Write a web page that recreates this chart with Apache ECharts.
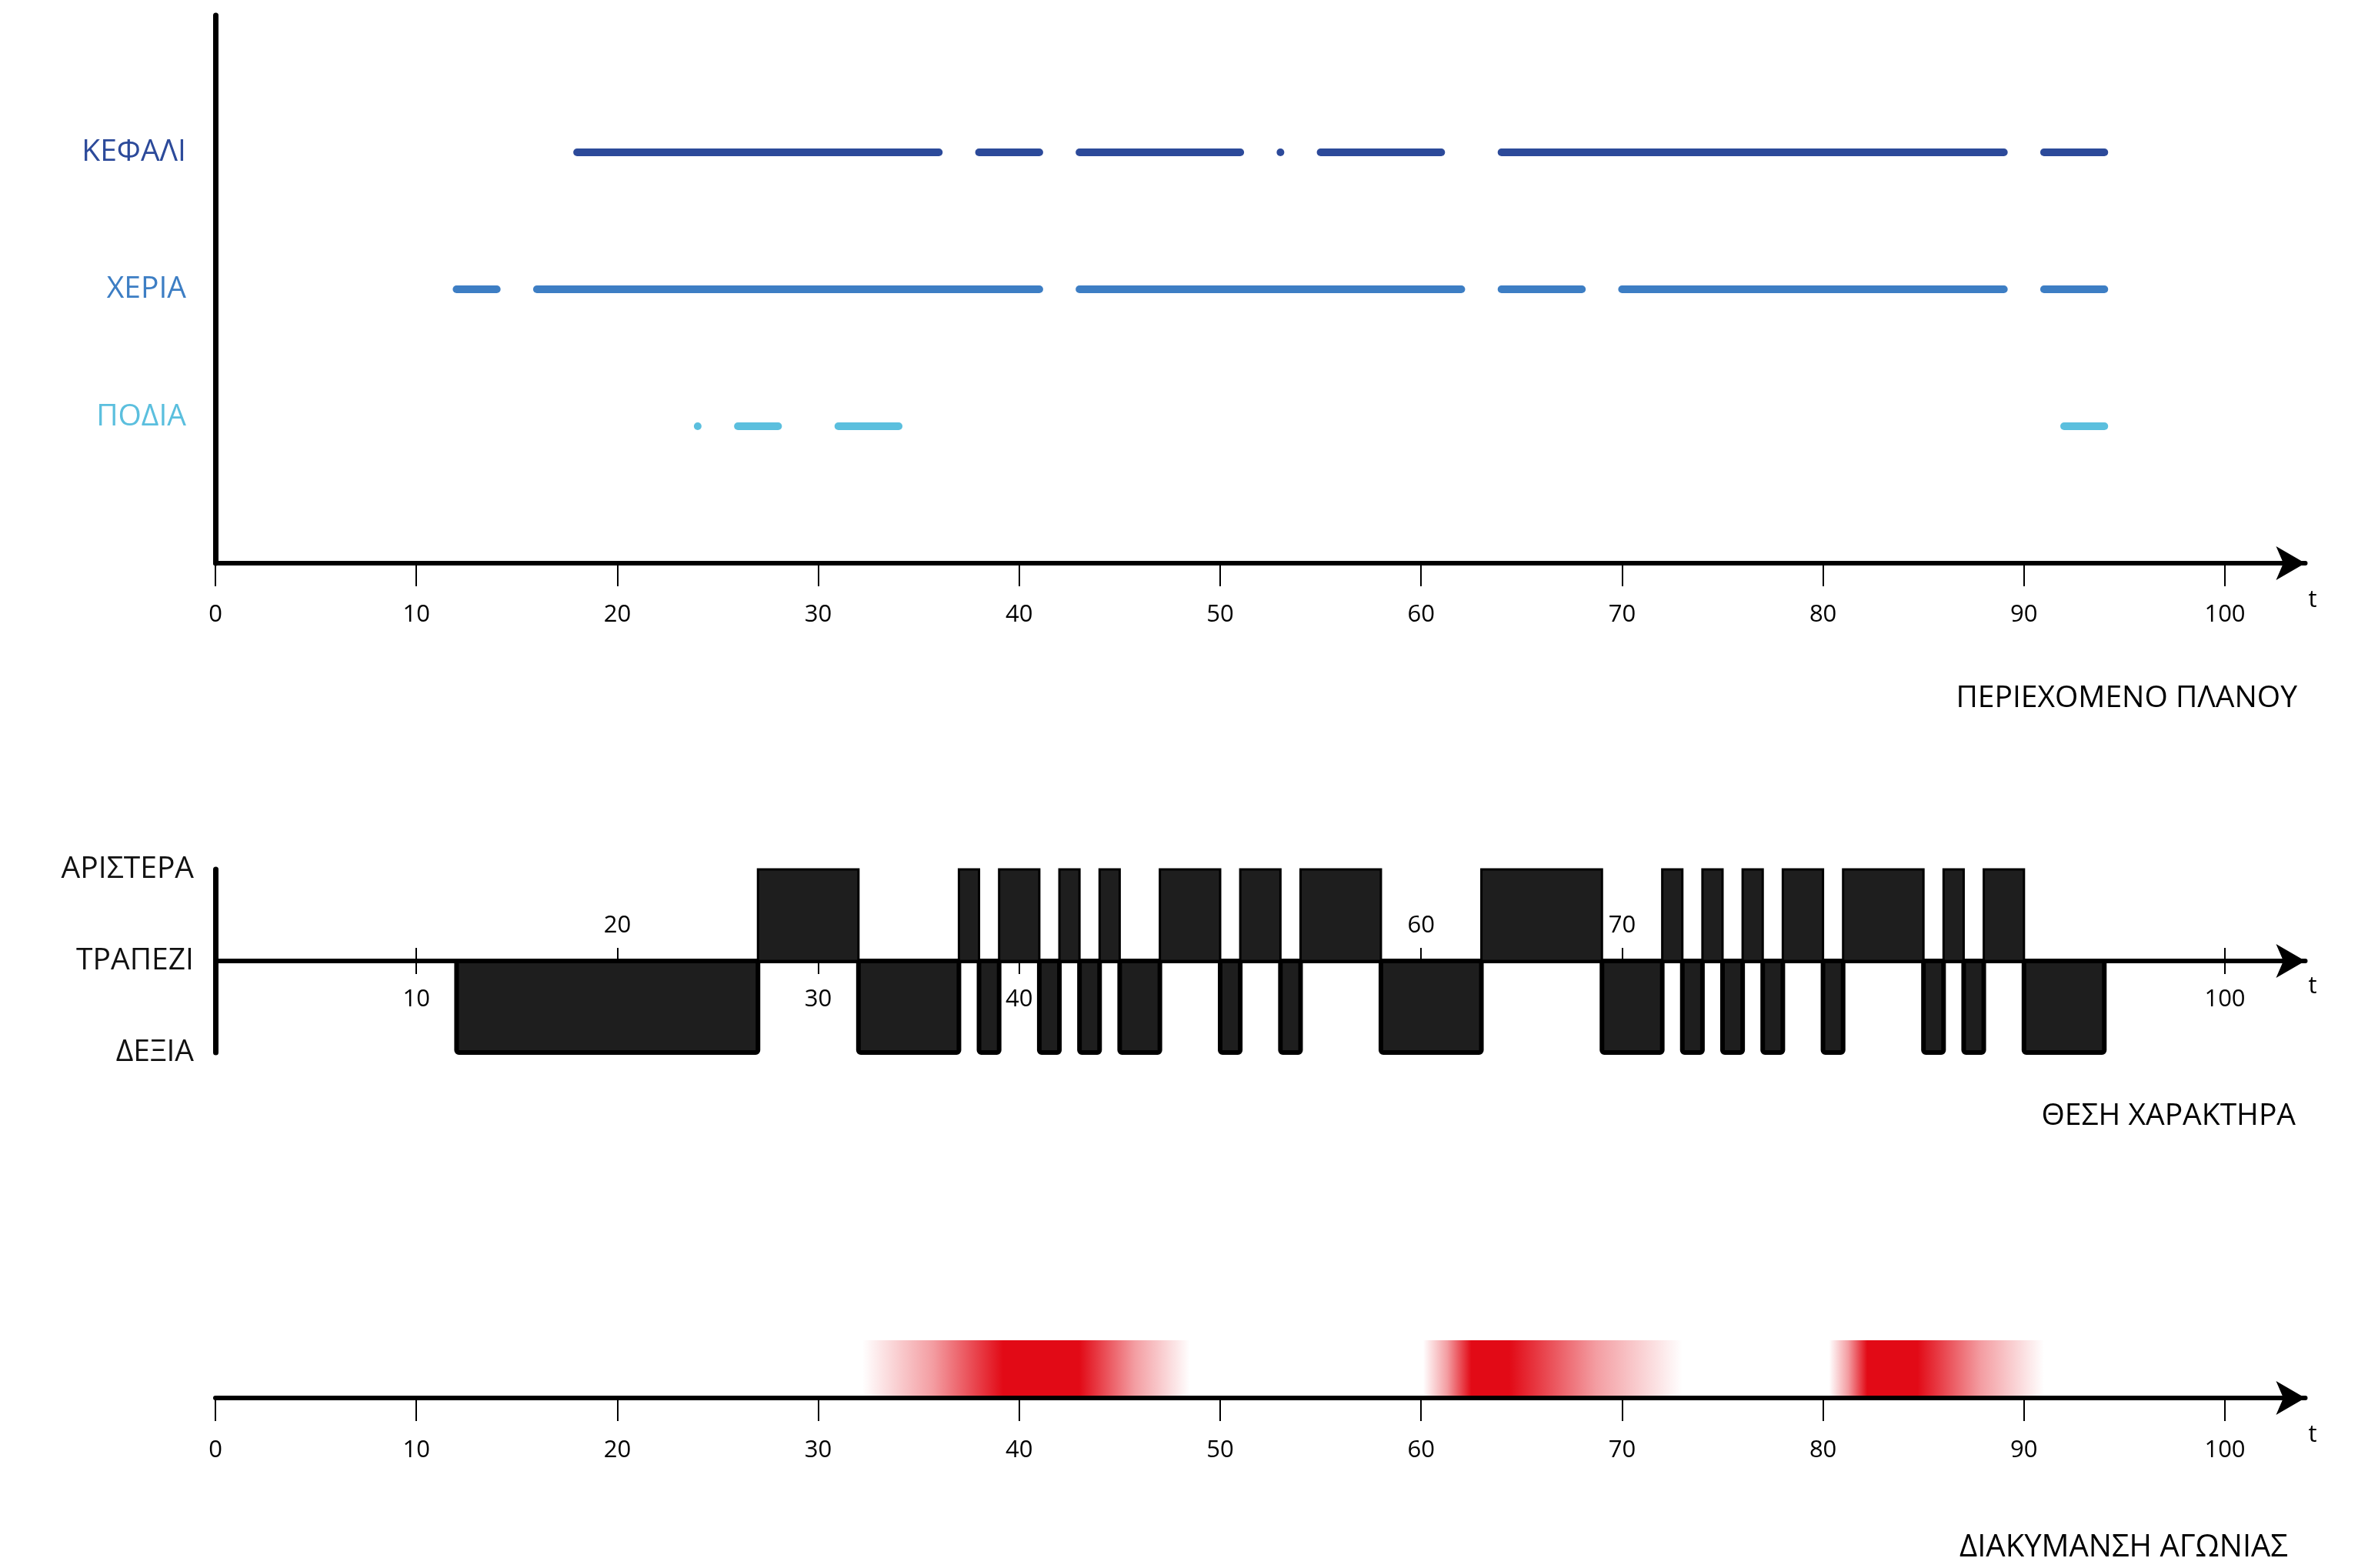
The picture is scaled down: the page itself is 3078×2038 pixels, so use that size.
<!DOCTYPE html>
<html>
<head>
<meta charset="utf-8">
<title>Περιεχόμενο πλάνου, θέση χαρακτήρα, διακύμανση αγωνίας</title>
<script src="https://cdn.jsdelivr.net/npm/echarts@6/dist/echarts.min.js"></script>
<style>
  html, body { margin: 0; padding: 0; background: #fff; }
  #chart { width: 3078px; height: 2038px; }
</style>
</head>
<body>
<div id="chart"></div>
<script>
// time ticks, shared by all three panels
const tickValues = [0, 10, 20, 30, 40, 50, 60, 70, 80, 90, 100];

// panel 1 - what is in the shot, [from, to] in t
const partNames = ['ΠΟΔΙΑ', 'ΧΕΡΙΑ', 'ΚΕΦΑΛΙ'];
const partColors = ['#5bbfde', '#3d7ec4', '#2c4a9a'];
const headSegments = [[18, 36], [38, 41], [43, 51], [53, 53], [55, 61], [64, 89], [91, 94]];
const handSegments = [[12, 14], [16, 41], [43, 62], [64, 68], [70, 89], [91, 94]];
const footSegments = [[24, 24], [26, 28], [31, 34], [92, 94]];

// panel 2 - character position: change points in t, side between them (1 left, -1 right)
const positionNames = ['ΔΕΞΙΑ', 'ΤΡΑΠΕΖΙ', 'ΑΡΙΣΤΕΡΑ'];
const positionChanges = [12, 27, 32, 37, 38, 39, 41, 42, 43, 44, 45, 47, 50, 51, 53, 54, 58,
  63, 69, 72, 73, 74, 75, 76, 77, 78, 80, 81, 85, 86, 87, 88, 90, 94];
const positionSides = [-1, 1, -1, 1, -1, 1, -1, 1, -1, 1, -1, 1, -1, 1, -1, 1, -1,
  1, -1, 1, -1, 1, -1, 1, -1, 1, -1, 1, -1, 1, -1, 1, -1];
const labelsBelow = [10, 30, 40, 100];
const labelsAbove = [20, 60, 70];

// panel 3 - anxiety peaks: fade in from start, full red between peak bounds, fade out to end
const anxietyStart = [32.2, 60.1, 80.3];
const anxietyPeakFrom = [39.2, 62.5, 82.2];
const anxietyPeakTo = [43, 64.4, 84.7];
const anxietyEnd = [48.5, 73, 91];

const FONT = '"Open Sans", "Noto Sans", sans-serif';
const T_MAX = 104;
const GRID_W = 26.12 * T_MAX;
const POS_HALF = 119; // px from the middle line of panel 2 to its top / bottom

const chart = echarts.init(document.getElementById('chart'));

function timeAxis(gridIndex, o) {
  return {
    type: 'value',
    gridIndex: gridIndex,
    position: o.position || 'bottom',
    offset: o.offset || 0,
    min: 0,
    max: T_MAX,
    z: o.z || 0,
    splitLine: { show: false },
    axisLine: {
      show: o.line !== false,
      onZero: false,
      symbol: ['none', 'arrow'],
      symbolSize: [33, 38],
      lineStyle: { color: '#000', width: 6, cap: 'round' }
    },
    axisTick: {
      show: true,
      customValues: tickValues,
      length: o.tickLen,
      lineStyle: { color: '#000', width: 2 }
    },
    axisLabel: {
      customValues: o.labels,
      margin: o.margin,
      color: '#000',
      fontSize: 31,
      fontFamily: FONT
    },
    name: o.namePad == null ? '' : 't',
    nameLocation: 'end',
    nameGap: 4,
    nameTextStyle: {
      color: '#000',
      fontSize: 31,
      fontFamily: FONT,
      align: 'left',
      verticalAlign: 'top',
      padding: [o.namePad || 0, 0, 0, 0]
    }
  };
}

function renderTrack(params, api) {
  const a = api.coord([api.value(0), api.value(2)]);
  const b = api.coord([api.value(1), api.value(2)]);
  const h = 10;
  return {
    type: 'rect',
    shape: { x: a[0] - h / 2, y: a[1] - h / 2, width: b[0] - a[0] + h, height: h, r: h / 2 },
    style: { fill: api.visual('color') }
  };
}

function renderPosition(params, api) {
  const side = api.value(2);
  const a = api.coord([api.value(0), 0]);
  const b = api.coord([api.value(1), side]);
  return {
    type: 'rect',
    shape: {
      x: a[0], y: Math.min(a[1], b[1]),
      width: b[0] - a[0], height: Math.abs(b[1] - a[1]),
      r: side < 0 ? [0, 0, 3, 3] : 0
    },
    style: { fill: '#1e1e1e', stroke: '#000', lineWidth: side < 0 ? 6 : 3 }
  };
}

function renderAnxiety(params, api) {
  const s = api.value(0), p1 = api.value(1), p2 = api.value(2), e = api.value(3);
  const a = api.coord([s, 1]);
  const b = api.coord([e, 0]);
  const o1 = (p1 - s) / (e - s);
  const o2 = (p2 - s) / (e - s);
  const red = a => 'rgba(226, 10, 22, ' + a + ')';
  return {
    type: 'rect',
    shape: { x: a[0], y: a[1], width: b[0] - a[0], height: b[1] - a[1] },
    style: {
      fill: new echarts.graphic.LinearGradient(0, 0, 1, 0, [
        { offset: 0, color: red(0) },
        { offset: o1 * 0.5, color: red(0.4) },
        { offset: o1, color: red(1) },
        { offset: o2, color: red(1) },
        { offset: o2 + (1 - o2) * 0.5, color: red(0.4) },
        { offset: 1, color: red(0) }
      ])
    }
  };
}

const titleStyle = { fontSize: 39, fontWeight: 'normal', color: '#000', fontFamily: FONT };

const option = {
  backgroundColor: '#fff',
  animation: false,
  title: [
    { text: 'ΠΕΡΙΕΧΟΜΕΝΟ ΠΛΑΝΟΥ', right: 92, top: 888, padding: 0, textStyle: titleStyle },
    { text: 'ΘΕΣΗ ΧΑΡΑΚΤΗΡΑ', right: 94, top: 1431, padding: 0, textStyle: titleStyle },
    { text: 'ΔΙΑΚΥΜΑΝΣΗ ΑΓΩΝΙΑΣ', right: 104, top: 1992, padding: 0,
      textStyle: Object.assign({}, titleStyle, { fontSize: 40 }) }
  ],
  grid: [
    { left: 280, top: 20, width: GRID_W, height: 712, containLabel: false, outerBoundsMode: 'none' },
    { left: 280, top: 1130, width: GRID_W, height: 2 * POS_HALF, containLabel: false, outerBoundsMode: 'none' },
    { left: 280, top: 1742, width: GRID_W, height: 75, containLabel: false, outerBoundsMode: 'none' }
  ],
  xAxis: [
    timeAxis(0, { labels: tickValues, margin: 52, tickLen: 30, namePad: 33 }),
    timeAxis(1, { labels: labelsBelow, margin: 35, tickLen: 17, namePad: 18, offset: -POS_HALF }),
    timeAxis(1, { labels: labelsAbove, margin: 30, tickLen: 17, position: 'top', offset: -POS_HALF, line: false }),
    timeAxis(2, { labels: tickValues, margin: 53, tickLen: 30, namePad: 33, z: 5 })
  ],
  yAxis: [
    {
      type: 'value', gridIndex: 0, min: 0, max: 4,
      splitLine: { show: false },
      axisLine: { show: true, onZero: false, lineStyle: { color: '#000', width: 7, cap: 'round' } },
      axisTick: { show: false },
      axisLabel: {
        customValues: [1, 2, 3],
        margin: 38,
        fontSize: 39,
        fontFamily: FONT,
        formatter: v => (v === 1 ? '{lift|' + partNames[0] + '}' : partNames[v - 1]),
        color: v => partColors[v - 1],
        rich: {
          lift: { fontSize: 39, fontFamily: FONT, color: partColors[0], padding: [0, 0, 24, 0] }
        }
      }
    },
    {
      type: 'value', gridIndex: 1, min: -1, max: 1,
      splitLine: { show: false },
      axisLine: { show: true, onZero: false, lineStyle: { color: '#000', width: 7, cap: 'round' } },
      axisTick: { show: false },
      axisLabel: {
        customValues: [-1, 0, 1],
        margin: 28,
        fontSize: 39,
        fontFamily: FONT,
        color: '#111',
        formatter: v => positionNames[v + 1]
      }
    },
    { type: 'value', gridIndex: 2, min: 0, max: 1, show: false }
  ],
  series: [
    {
      type: 'custom', name: partNames[2], xAxisIndex: 0, yAxisIndex: 0,
      itemStyle: { color: partColors[2] },
      encode: { x: [0, 1], y: 2 },
      renderItem: renderTrack,
      data: headSegments.map(s => [s[0], s[1], 3])
    },
    {
      type: 'custom', name: partNames[1], xAxisIndex: 0, yAxisIndex: 0,
      itemStyle: { color: partColors[1] },
      encode: { x: [0, 1], y: 2 },
      renderItem: renderTrack,
      data: handSegments.map(s => [s[0], s[1], 2])
    },
    {
      type: 'custom', name: partNames[0], xAxisIndex: 0, yAxisIndex: 0,
      itemStyle: { color: partColors[0] },
      encode: { x: [0, 1], y: 2 },
      renderItem: renderTrack,
      data: footSegments.map(s => [s[0], s[1], 1])
    },
    {
      type: 'custom', name: 'ΘΕΣΗ', xAxisIndex: 1, yAxisIndex: 1,
      encode: { x: [0, 1], y: 2 },
      renderItem: renderPosition,
      data: positionSides.map((s, i) => [positionChanges[i], positionChanges[i + 1], s])
    },
    {
      type: 'custom', name: 'ΑΓΩΝΙΑ', xAxisIndex: 3, yAxisIndex: 2, z: 1,
      encode: { x: [0, 3] },
      renderItem: renderAnxiety,
      data: anxietyStart.map((s, i) => [s, anxietyPeakFrom[i], anxietyPeakTo[i], anxietyEnd[i]])
    }
  ]
};

chart.setOption(option);
</script>
</body>
</html>
